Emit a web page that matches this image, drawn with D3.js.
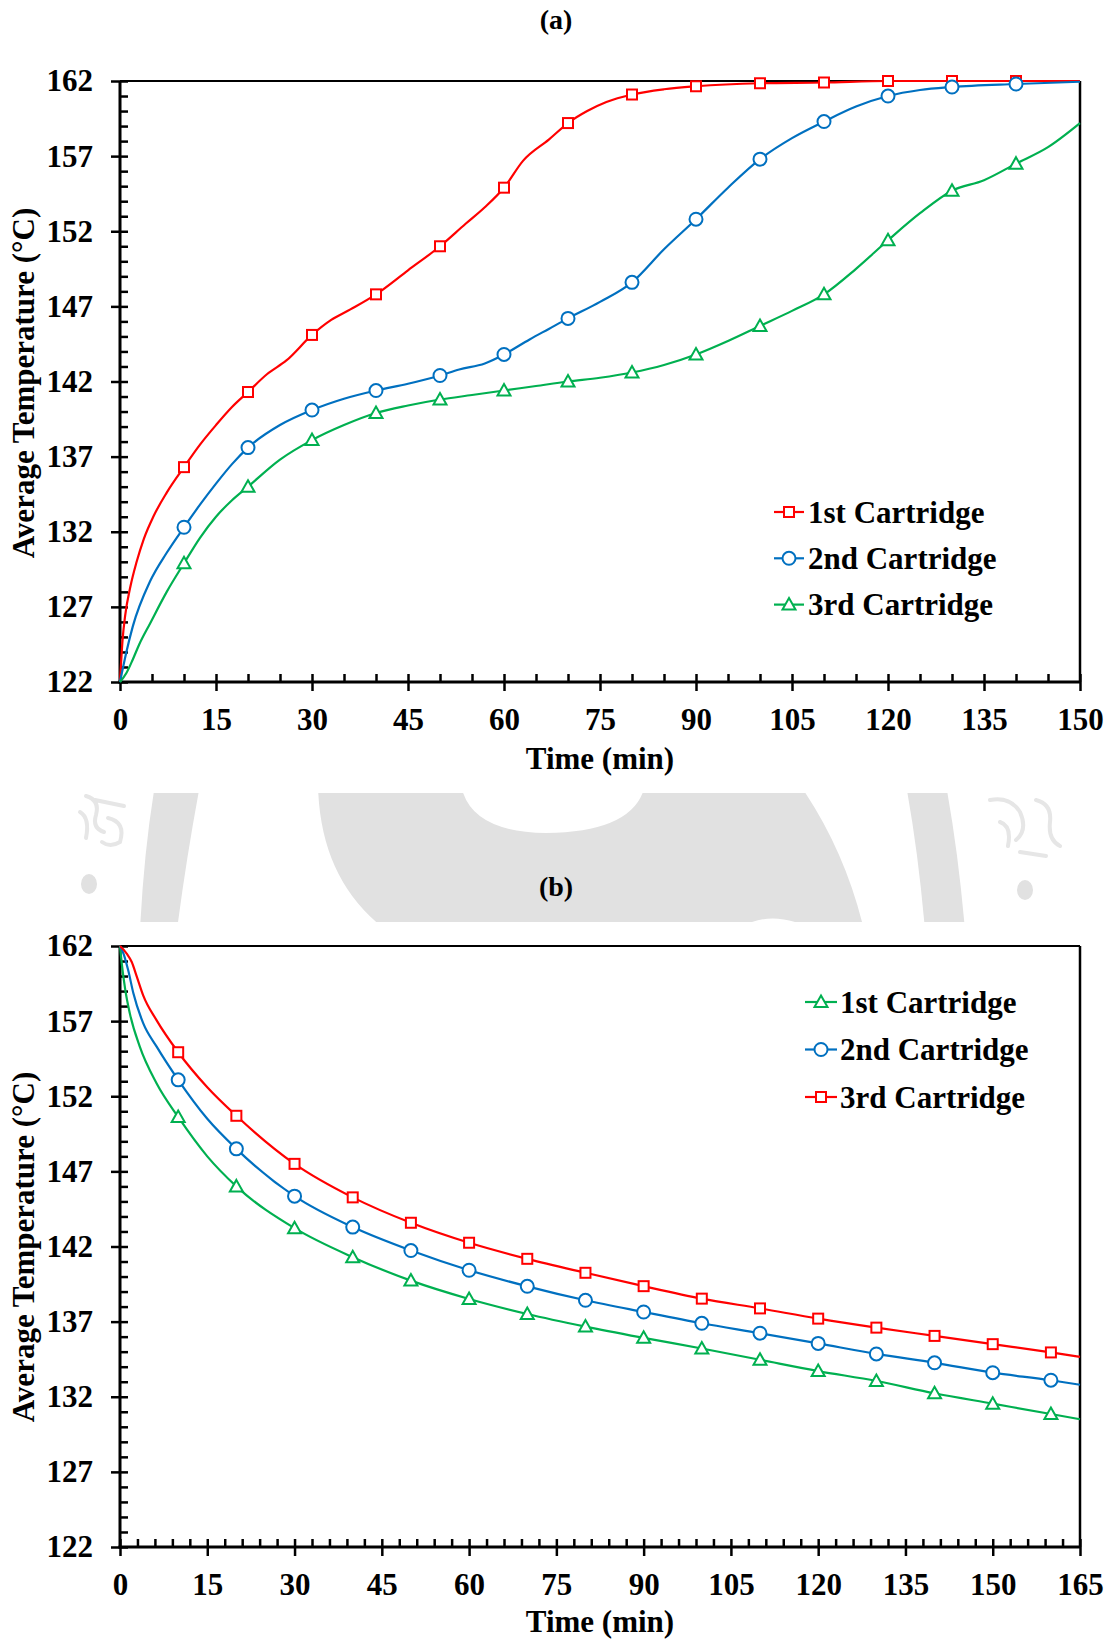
<!DOCTYPE html>
<html>
<head>
<meta charset="utf-8">
<script src="https://cdn.jsdelivr.net/npm/d3@7"></script>
<style>
  html, body { margin: 0; padding: 0; background: #fff; }
  svg { display: block; }
</style>
</head>
<body>
<svg id="chart" width="1113" height="1640"></svg>
<script>
// ---------------- DATA ----------------
// Panel (a): heating, time (min) vs average temperature (°C)
const timeA1 = [0, 0.4, 0.8, 1.6, 2.6, 3.7, 5.2, 7.3, 10, 12.5, 15, 17.5, 20, 23, 26, 30, 33, 36, 40, 45, 50, 54, 57, 60, 63, 67, 70, 73, 76, 80, 85, 90, 100, 110, 120, 130, 140, 150];
const tempA1 = [122, 124.8, 126.4, 128.3, 130.0, 131.5, 133.0, 134.6, 136.3, 137.8, 139.1, 140.3, 141.3, 142.5, 143.4, 145.1, 146.1, 146.8, 147.8, 149.4, 151.0, 152.5, 153.6, 154.9, 156.7, 158.1, 159.2, 160.0, 160.6, 161.1, 161.45, 161.65, 161.85, 161.9, 162, 162, 162, 162];

const timeA2 = [0, 1, 2, 4.7, 7.3, 10, 12.5, 15, 17.5, 20, 25, 30, 35, 40, 45, 50, 53, 57, 60, 64, 67, 70, 75, 80, 85, 90, 95, 100, 105, 110, 115, 120, 125, 130, 140, 150];
const tempA2 = [122, 124.0, 125.7, 128.7, 130.6, 132.3, 133.8, 135.2, 136.5, 137.6, 139.1, 140.1, 140.85, 141.4, 141.85, 142.4, 142.8, 143.2, 143.8, 144.8, 145.5, 146.2, 147.3, 148.6, 150.8, 152.8, 154.9, 156.8, 158.2, 159.3, 160.3, 161.0, 161.4, 161.6, 161.8, 161.95];

const timeA3 = [0, 1, 2, 3, 4.7, 7.3, 10, 12.5, 15, 17.5, 20, 25, 30, 35, 40, 45, 50, 55, 60, 65, 70, 75, 80, 85, 90, 95, 100, 105, 110, 115, 120, 125, 130, 135, 140, 145, 150];
const tempA3 = [122, 122.6, 123.5, 124.5, 125.9, 128.0, 129.9, 131.6, 133.0, 134.1, 135.0, 136.8, 138.1, 139.1, 139.9, 140.4, 140.8, 141.1, 141.4, 141.7, 142.0, 142.25, 142.6, 143.1, 143.8, 144.7, 145.7, 146.7, 147.8, 149.5, 151.4, 153.2, 154.7, 155.4, 156.5, 157.6, 159.2];

// Panel (b): cooling
const timeB1 = [0, 0.3, 0.9, 1.7, 3.4, 6.3, 10, 15, 20, 30, 40, 50, 60, 70, 80, 90, 100, 110, 120, 130, 140, 150, 160, 165];
const tempB1 = [162, 160.85, 159.1, 157.5, 155.3, 152.85, 150.62, 148.0, 146.0, 143.22, 141.29, 139.73, 138.51, 137.51, 136.67, 135.92, 135.21, 134.46, 133.71, 133.05, 132.23, 131.54, 130.85, 130.5];

const timeB2 = [0, 0.6, 1.4, 2.3, 4, 6.3, 10, 15, 20, 30, 40, 50, 60, 70, 80, 90, 100, 110, 120, 130, 140, 150, 160, 165];
const tempB2 = [162, 161.5, 160.4, 158.85, 156.85, 155.3, 153.09, 150.5, 148.5, 145.35, 143.29, 141.73, 140.42, 139.35, 138.42, 137.64, 136.89, 136.23, 135.55, 134.85, 134.26, 133.6, 133.1, 132.8];

const timeB3 = [0, 1.15, 2, 2.9, 4, 6.3, 10, 15, 20, 30, 40, 50, 60, 70, 80, 90, 100, 110, 120, 130, 140, 150, 160, 165];
const tempB3 = [162, 161.5, 160.95, 159.95, 158.7, 157.05, 154.93, 152.6, 150.7, 147.5, 145.27, 143.58, 142.25, 141.18, 140.25, 139.36, 138.53, 137.88, 137.2, 136.6, 136.05, 135.5, 134.95, 134.65];

const seriesNames = ["1st Cartridge", "2nd Cartridge", "3rd Cartridge"];
const yTickValues = [122, 127, 132, 137, 142, 147, 152, 157, 162];
const xTickValuesA = [0, 15, 30, 45, 60, 75, 90, 105, 120, 135, 150];
const xTickValuesB = [0, 15, 30, 45, 60, 75, 90, 105, 120, 135, 150, 165];
const markerTimesA = [10, 20, 30, 40, 50, 60, 70, 80, 90, 100, 110, 120, 130, 140];
const markerTimesB = [10, 20, 30, 40, 50, 60, 70, 80, 90, 100, 110, 120, 130, 140, 150, 160];
const panelTitles = ["(a)", "(b)"];
const xTitle = "Time (min)";
const yTitle = "Average Temperature (°C)";

// ---------------- STYLE ----------------
const FONT = "'Liberation Serif','Times New Roman',Times,serif";
const FS = 31;
const RED = "#ff0000", BLUE = "#0070c0", GREEN = "#00b050";
const svg = d3.select("#chart");

// ---------------- WATERMARK (background logo fragment between panels) ----------------
(function watermark() {
  const wm = svg.append("g");
  const clip = svg.append("defs").append("clipPath").attr("id", "wmclip");
  clip.append("rect").attr("x", 0).attr("y", 793).attr("width", 1113).attr("height", 129);
  wm.attr("clip-path", "url(#wmclip)");
  const g = "#e1e1e1";
  wm.append("path").attr("fill", g)
    .attr("d", "M155,785 L200,785 Q186,860 177,930 L140,930 Q144,850 155,785 Z");
  wm.append("path").attr("fill", g)
    .attr("d", "M318,785 L461,785 Q470,832 546,833 Q635,832 645,785 L800,785 Q845,850 864,930 L386,930 Q320,880 318,785 Z");
  wm.append("path").attr("fill", "#fff")
    .attr("d", "M752,922 Q772,915 795,922 Z");
  wm.append("path").attr("fill", g)
    .attr("d", "M906,785 L946,785 Q958,850 965,930 L925,930 Q918,850 906,785 Z");
  wm.append("ellipse").attr("cx", 89).attr("cy", 884).attr("rx", 8).attr("ry", 10).attr("fill", g);
  wm.append("ellipse").attr("cx", 1025).attr("cy", 890).attr("rx", 8).attr("ry", 10).attr("fill", g);
  const sg = wm.append("g").attr("fill", "none").attr("stroke", "#e6e6e6").attr("stroke-width", 4).attr("stroke-linecap", "round");
  sg.append("path").attr("d", "M86,796 Q100,800 96,815 Q92,828 104,832 M80,812 Q90,818 86,838 M95,800 L124,806 M108,818 Q126,822 120,842 Q110,848 102,842");
  sg.append("path").attr("d", "M990,800 Q1010,796 1020,812 Q1028,830 1016,840 M1000,822 Q1012,826 1008,846 M1036,800 Q1052,804 1050,822 Q1048,840 1060,846 M1020,852 L1046,856");
})();

// ---------------- PANEL DRAWING ----------------
function drawMarker(sel, shape, cx, cy, color) {
  if (shape === "square") {
    sel.append("rect").attr("x", cx - 5).attr("y", cy - 5).attr("width", 10).attr("height", 10)
      .attr("fill", "#fff").attr("stroke", color).attr("stroke-width", 2);
  } else if (shape === "circle") {
    sel.append("circle").attr("cx", cx).attr("cy", cy).attr("r", 6.5)
      .attr("fill", "#fff").attr("stroke", color).attr("stroke-width", 2);
  } else {
    sel.append("path")
      .attr("d", `M${cx},${cy - 6.5}L${cx + 6.5},${cy + 5}L${cx - 6.5},${cy + 5}Z`)
      .attr("fill", "#fff").attr("stroke", color).attr("stroke-width", 2);
  }
}

function styleAxis(g) {
  g.attr("font-family", FONT).attr("font-size", FS).attr("font-weight", "bold");
  g.select(".domain").remove();
  g.selectAll(".tick line").attr("stroke", "#000").attr("stroke-width", 2.5);
  g.selectAll(".tick text").attr("fill", "#000");
}

function drawPanel(cfg) {
  const { left, right, top, bottom, xMax, xTicks, xMinorStep, series, markerTimes, legend, title, titleY, xTitleY, yTitleY } = cfg;
  const x = d3.scaleLinear().domain([0, xMax]).range([left, right]);
  const y = d3.scaleLinear().domain([122, 162]).range([bottom, top]);
  const root = svg.append("g");

  // plot frame (top and right)
  root.append("line").attr("x1", left).attr("x2", right).attr("y1", top).attr("y2", top)
    .attr("stroke", "#000").attr("stroke-width", 2);
  root.append("line").attr("x1", right).attr("x2", right).attr("y1", top).attr("y2", bottom)
    .attr("stroke", "#000").attr("stroke-width", 2.5);

  // y axis: major ticks crossing outward with labels, minor ticks inward
  root.append("g").attr("transform", `translate(${left},0)`)
    .call(d3.axisLeft(y).tickValues(yTickValues).tickSize(9).tickPadding(18).tickFormat(d3.format("d")))
    .call(styleAxis);
  root.append("g").attr("transform", `translate(${left},0)`)
    .call(d3.axisRight(y).tickValues(d3.range(122, 162.001, 1)).tickSize(8).tickFormat(""))
    .call(styleAxis);

  // x axis
  root.append("g").attr("transform", `translate(0,${bottom})`)
    .call(d3.axisBottom(x).tickValues(xTicks).tickSize(9).tickPadding(17).tickFormat(d3.format("d")))
    .call(styleAxis);
  root.append("g").attr("transform", `translate(0,${bottom})`)
    .call(d3.axisTop(x).tickValues(d3.range(0, xMax + 0.001, xMinorStep)).tickSize(8).tickFormat(""))
    .call(styleAxis);

  // axis lines
  root.append("line").attr("x1", left).attr("x2", left).attr("y1", top).attr("y2", bottom + 1.5)
    .attr("stroke", "#000").attr("stroke-width", 3);
  root.append("line").attr("x1", left - 1.5).attr("x2", right).attr("y1", bottom).attr("y2", bottom)
    .attr("stroke", "#000").attr("stroke-width", 3);

  // series
  const line = d3.line().x(d => x(d[0])).y(d => y(d[1])).curve(d3.curveMonotoneX);
  series.forEach(s => {
    const pts = s.t.map((t, i) => [t, s.v[i]]);
    root.append("path").datum(pts).attr("d", line)
      .attr("fill", "none").attr("stroke", s.color).attr("stroke-width", 2.2);
    const mg = root.append("g");
    pts.filter(p => markerTimes.includes(p[0])).forEach(p => drawMarker(mg, s.shape, x(p[0]), y(p[1]), s.color));
  });

  // legend
  const lg = root.append("g");
  legend.order.forEach((si, k) => {
    const s = series[si];
    const ry = legend.y0 + k * legend.dy;
    lg.append("line").attr("x1", legend.x1).attr("x2", legend.x2).attr("y1", ry).attr("y2", ry)
      .attr("stroke", s.color).attr("stroke-width", 2.2);
    drawMarker(lg, s.shape, (legend.x1 + legend.x2) / 2, ry, s.color);
    lg.append("text").attr("x", legend.tx).attr("y", ry + 10.5)
      .attr("font-family", FONT).attr("font-size", FS).attr("font-weight", "bold").attr("fill", "#000")
      .text(s.name);
  });

  // titles
  root.append("text").attr("x", 556).attr("y", titleY).attr("text-anchor", "middle")
    .attr("font-family", FONT).attr("font-size", 28).attr("font-weight", "bold").text(title);
  root.append("text").attr("x", (left + right) / 2).attr("y", xTitleY).attr("text-anchor", "middle")
    .attr("font-family", FONT).attr("font-size", FS).attr("font-weight", "bold").text(xTitle);
  root.append("text").attr("transform", `translate(34,${yTitleY}) rotate(-90)`).attr("text-anchor", "middle")
    .attr("font-family", FONT).attr("font-size", FS).attr("font-weight", "bold").text(yTitle);
}

drawPanel({
  left: 120, right: 1080, top: 81, bottom: 682, xMax: 150,
  xTicks: xTickValuesA, xMinorStep: 5, markerTimes: markerTimesA,
  series: [
    { t: timeA1, v: tempA1, color: RED, shape: "square", name: seriesNames[0] },
    { t: timeA2, v: tempA2, color: BLUE, shape: "circle", name: seriesNames[1] },
    { t: timeA3, v: tempA3, color: GREEN, shape: "triangle", name: seriesNames[2] }
  ],
  legend: { order: [0, 1, 2], x1: 774, x2: 804, tx: 808, y0: 512, dy: 46.3 },
  title: panelTitles[0], titleY: 29, xTitleY: 769, yTitleY: 383
});

drawPanel({
  left: 120, right: 1080, top: 946, bottom: 1547, xMax: 165,
  xTicks: xTickValuesB, xMinorStep: 3, markerTimes: markerTimesB,
  series: [
    { t: timeB1, v: tempB1, color: GREEN, shape: "triangle", name: seriesNames[0] },
    { t: timeB2, v: tempB2, color: BLUE, shape: "circle", name: seriesNames[1] },
    { t: timeB3, v: tempB3, color: RED, shape: "square", name: seriesNames[2] }
  ],
  legend: { order: [0, 1, 2], x1: 805, x2: 837, tx: 840, y0: 1002, dy: 47.5 },
  title: panelTitles[1], titleY: 896, xTitleY: 1632, yTitleY: 1247
});
</script>
</body>
</html>
